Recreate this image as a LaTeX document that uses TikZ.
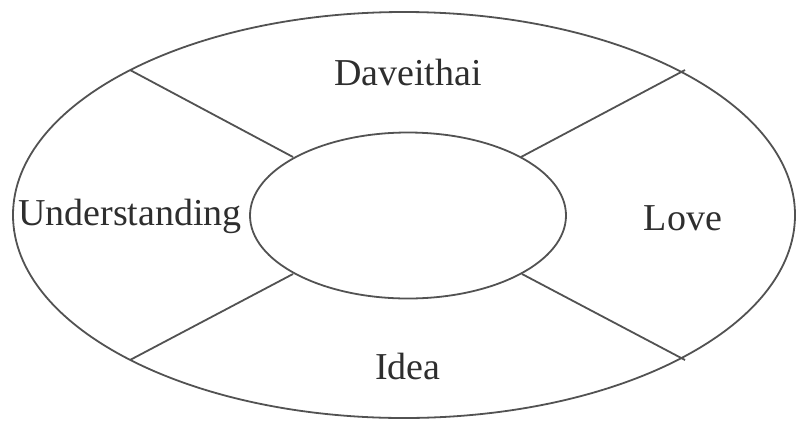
\documentclass[tikz,border=0pt]{standalone}
\usepackage{fontspec}
\setmainfont{Liberation Serif}
\usetikzlibrary{shapes.geometric}
\begin{document}
\begin{tikzpicture}[x=1pt,y=-1pt,
  ring/.style={draw=black!68, line width=1.8pt, ellipse, inner sep=0pt, outer sep=0pt},
  spoke/.style={draw=black!68, line width=1.8pt},
  lab/.style={font=\fontsize{38}{44}\selectfont, text=black!82, inner sep=0pt}]
\useasboundingbox (0,0) rectangle (797,421);
\node[ring, minimum width=782pt, minimum height=406pt] (outer) at (404,215) {};
\node[ring, minimum width=316pt, minimum height=166pt] (inner) at (408,215.5) {};
\coordinate (o1) at (130,70);
\coordinate (o2) at (685,70);
\coordinate (o3) at (130,360);
\coordinate (o4) at (685,360);
\coordinate (i1) at (293,157);
\coordinate (i2) at (521,157);
\coordinate (i3) at (293,274);
\coordinate (i4) at (522,274);
\draw[spoke] (o1) -- (i1);
\draw[spoke] (o2) -- (i2);
\draw[spoke] (o3) -- (i3);
\draw[spoke] (o4) -- (i4);
\node[lab] (dav) at (408,72) {Daveithai};
\node[lab] (und) at (130,216) {Understanding};
\node[lab] (love) at (683,218) {Love};
\node[lab] (idea) at (408,366) {Idea};
\end{tikzpicture}
\end{document}
